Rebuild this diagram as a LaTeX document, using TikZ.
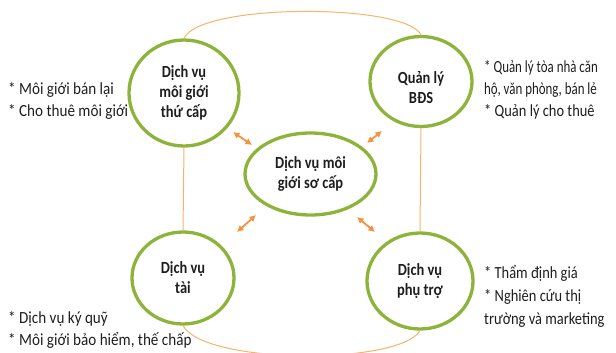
\documentclass[tikz,border=0pt]{standalone}
\usepackage{fontspec}
\setmainfont{Carlito}
\newfontfamily\narrowfont[FakeStretch=0.85]{Carlito}
\newfontfamily\leftnotefont[FakeStretch=0.89]{Carlito}
\newfontfamily\tightnotefont[FakeStretch=0.76]{Carlito}
\usetikzlibrary{shapes.geometric,arrows.meta}
\definecolor{ring}{HTML}{8EB33B}
\definecolor{linkc}{HTML}{F8B26A}
\definecolor{tip}{HTML}{F5923E}
\definecolor{ink}{HTML}{1E1E1E}
\begin{document}
\begin{tikzpicture}[x=1pt,y=-1pt,
  service/.style={ellipse, draw=ring, line width=3.3pt, inner sep=0pt, align=center,
    font=\narrowfont\fontsize{17}{20}\selectfont\bfseries, text=ink},
  servicetext/.style={inner sep=0pt, align=center,
    font=\narrowfont\fontsize{17}{20}\selectfont\bfseries, text=ink},
  link/.style={draw=linkc, line width=1pt},
  twoway/.style={draw=tip, line width=1.8pt,
    {Latex[length=6.5pt,width=7pt]}-{Latex[length=6.5pt,width=7pt]}},
  note/.style={anchor=base west, inner sep=0pt, font=\narrowfont\fontsize{17}{20}\selectfont, text=ink},
  leftnote/.style={note, font=\leftnotefont\fontsize{17}{20}\selectfont},
  tightnote/.style={note, font=\tightnotefont\fontsize{17}{20}\selectfont}]
\useasboundingbox (0,0) rectangle (616,353);

% service rings
\node[service, minimum width=110pt, minimum height=106pt] (sec) at (184,93) {Dịch vụ\\môi giới\\thứ cấp};
\node[service, minimum width=102pt, minimum height=90pt] (mgmt) at (421,81.5) {};
\node[servicetext] (mgmtlabel) at (421,88) {Quản lý\\BĐS};
\node[service, minimum width=131pt, minimum height=82pt] (pri) at (310.5,174) {Dịch vụ môi\\giới sơ cấp};
\node[service, minimum width=102pt, minimum height=92pt] (fin) at (183,278) {Dịch vụ\\tài};
\node[service, minimum width=106pt, minimum height=96pt] (aux) at (420,281) {Dịch vụ\\phụ trợ};

% outer frame of thin links
\draw[link] (sec.north) .. controls (200,3) and (405,3) .. (mgmt.north);
\draw[link] (sec.south) -- (fin.north);
\draw[link] (mgmt.south) -- (aux.north);
\draw[link] (fin.south) .. controls (205,365) and (400,365) .. (aux.south);

% two-way arrows around the centre ring
\coordinate (a1) at (233,132); \coordinate (b1) at (252,145);
\coordinate (a2) at (367,143); \coordinate (b2) at (382,131);
\coordinate (a3) at (237,232); \coordinate (b3) at (256,215);
\coordinate (a4) at (357,217); \coordinate (b4) at (375,232);
\draw[twoway] (a1) -- (b1);
\draw[twoway] (a2) -- (b2);
\draw[twoway] (a3) -- (b3);
\draw[twoway] (a4) -- (b4);

% notes
\node[leftnote] (n1) at (8,95) {* Môi giới bán lại};
\node[leftnote] (n2) at (8,117) {* Cho thuê môi giới};
\node[tightnote] (n3) at (484,73) {* Quản lý tòa nhà căn};
\node[tightnote] (n4) at (484,95) {hộ, văn phòng, bán lẻ};
\node[note] (n5) at (484,116) {* Quản lý cho thuê};
\node[note] (n6) at (484,278) {* Thẩm định giá};
\node[note] (n7) at (484,301) {* Nghiên cứu thị};
\node[note] (n8) at (484,324) {trường và marketing};
\node[leftnote] (n9) at (8,323) {* Dịch vụ ký quỹ};
\node[leftnote] (n10) at (8,345) {* Môi giới bảo hiểm, thế chấp};
\end{tikzpicture}
\end{document}
